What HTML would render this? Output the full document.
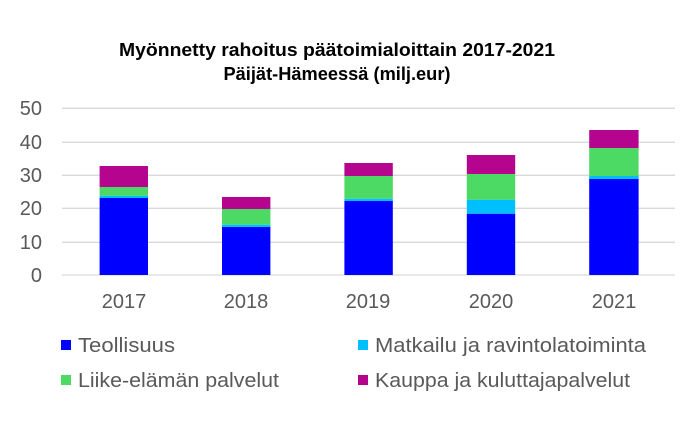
<!DOCTYPE html>
<html><head><meta charset="utf-8"><style>html,body{margin:0;padding:0;background:#fff}</style></head>
<body>
<svg width="686" height="422" viewBox="0 0 686 422" xmlns="http://www.w3.org/2000/svg" font-family="Liberation Sans, sans-serif">
<rect width="686" height="422" fill="#fff"/>
<g font-weight="bold" font-size="18" fill="#000" text-anchor="middle">
<text x="337" y="56" textLength="436" lengthAdjust="spacingAndGlyphs">Myönnetty rahoitus päätoimialoittain 2017-2021</text>
<text x="337" y="80" textLength="227" lengthAdjust="spacingAndGlyphs">Päijät-Hämeessä (milj.eur)</text>
</g>
<g stroke="#d9d9d9" stroke-width="1.3">
<line x1="62" x2="675" y1="108.3" y2="108.3"/><line x1="62" x2="675" y1="142.3" y2="142.3"/>
<line x1="62" x2="675" y1="175.3" y2="175.3"/><line x1="62" x2="675" y1="208.3" y2="208.3"/>
<line x1="62" x2="675" y1="242.3" y2="242.3"/><line x1="62" x2="675" y1="275" y2="275"/>
</g>
<g font-size="20" fill="#595959" text-anchor="end">
<text x="42" y="115">50</text><text x="42" y="149">40</text><text x="42" y="182">30</text>
<text x="42" y="215">20</text><text x="42" y="249">10</text><text x="42" y="282">0</text>
</g>
<g>
<rect x="99.6" y="198" width="48.4" height="77" fill="#0000ff"/>
<rect x="99.6" y="195.7" width="48.4" height="2.3" fill="#00bfff"/>
<rect x="99.6" y="187" width="48.4" height="8.7" fill="#4cd964"/>
<rect x="99.6" y="166" width="48.4" height="21" fill="#b5058e"/>

<rect x="222" y="227" width="48.4" height="48" fill="#0000ff"/>
<rect x="222" y="224.7" width="48.4" height="2.3" fill="#00bfff"/>
<rect x="222" y="209" width="48.4" height="15.7" fill="#4cd964"/>
<rect x="222" y="197" width="48.4" height="12" fill="#b5058e"/>

<rect x="344.4" y="201" width="48.4" height="74" fill="#0000ff"/>
<rect x="344.4" y="198.7" width="48.4" height="2.3" fill="#00bfff"/>
<rect x="344.4" y="176" width="48.4" height="22.7" fill="#4cd964"/>
<rect x="344.4" y="163" width="48.4" height="13" fill="#b5058e"/>

<rect x="466.8" y="213.7" width="48.4" height="61.3" fill="#0000ff"/>
<rect x="466.8" y="199.7" width="48.4" height="14" fill="#00bfff"/>
<rect x="466.8" y="174" width="48.4" height="25.7" fill="#4cd964"/>
<rect x="466.8" y="155" width="48.4" height="19" fill="#b5058e"/>

<rect x="589.2" y="179" width="49.4" height="96" fill="#0000ff"/>
<rect x="589.2" y="176" width="49.4" height="3" fill="#00bfff"/>
<rect x="589.2" y="148" width="49.4" height="28" fill="#4cd964"/>
<rect x="589.2" y="130" width="49.4" height="18" fill="#b5058e"/>
</g>
<g font-size="20" fill="#595959" text-anchor="middle">
<text x="124" y="308">2017</text><text x="246" y="308">2018</text><text x="368" y="308">2019</text>
<text x="491" y="308">2020</text><text x="614" y="308">2021</text>
</g>
<g font-size="20" fill="#595959">
<rect x="61" y="340" width="10" height="10" fill="#0000ff"/>
<text x="78" y="352" textLength="97" lengthAdjust="spacingAndGlyphs">Teollisuus</text>
<rect x="358" y="340" width="10" height="10" fill="#00bfff"/>
<text x="375" y="352" textLength="271" lengthAdjust="spacingAndGlyphs">Matkailu ja ravintolatoiminta</text>
<rect x="61" y="375" width="10" height="10" fill="#4cd964"/>
<text x="78" y="387" textLength="201" lengthAdjust="spacingAndGlyphs">Liike-elämän palvelut</text>
<rect x="358" y="375" width="10" height="10" fill="#b5058e"/>
<text x="375" y="387" textLength="255" lengthAdjust="spacingAndGlyphs">Kauppa ja kuluttajapalvelut</text>
</g>
</svg>
</body></html>
